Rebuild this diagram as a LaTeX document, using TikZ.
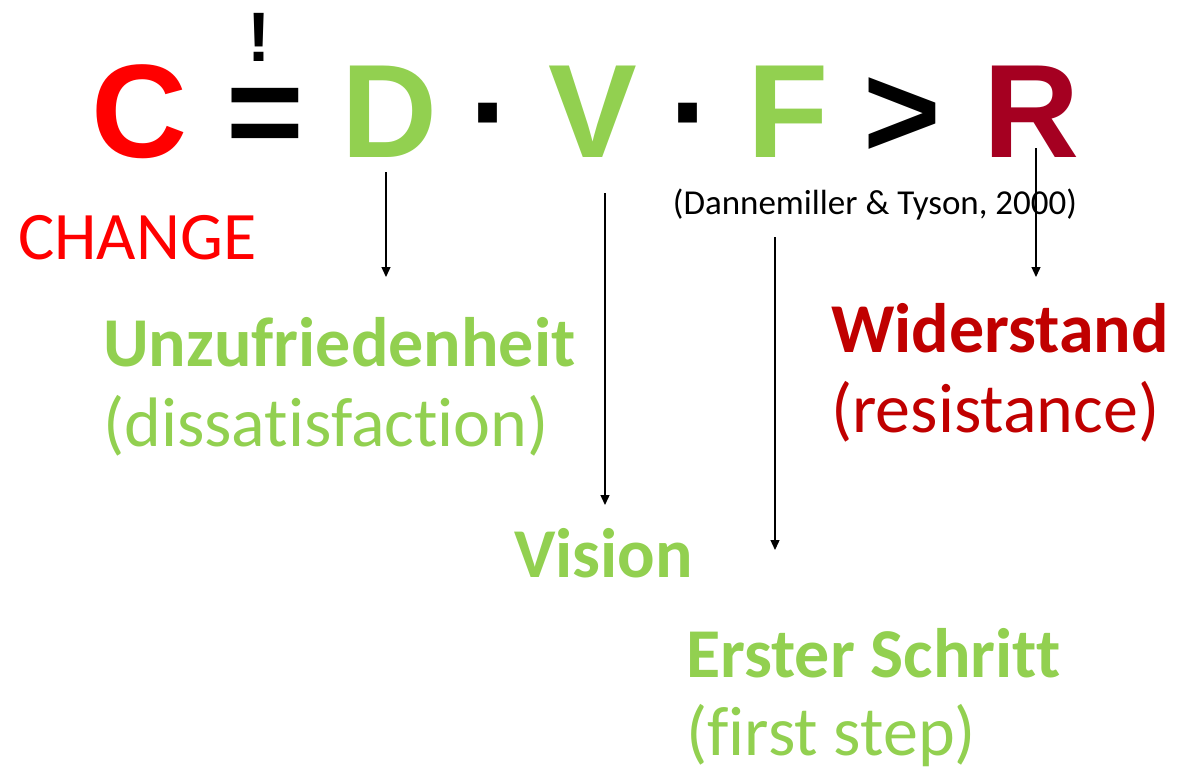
\documentclass[tikz,border=0pt]{standalone}
\usepackage{fontspec}
\setmainfont{Carlito}[Ligatures=NoCommon]
\newfontfamily\formulafont{Liberation Sans}
\usetikzlibrary{arrows.meta}
\definecolor{cgreen}{HTML}{92D050}
\definecolor{cred}{HTML}{FF0000}
\definecolor{crimson}{HTML}{A50021}
\definecolor{darkred}{HTML}{C00000}
\tikzset{
  sym/.style={inner sep=0pt, anchor=base, font=\formulafont\bfseries\fontsize{133}{133}\selectfont},
  lbl/.style={inner sep=0pt, anchor=base west, font=\fontsize{70}{70}\selectfont, text=cgreen},
  lblb/.style={lbl, font=\bfseries\fontsize{70}{70}\selectfont},
  pointer/.style={line width=1.3pt, -{Triangle[length=10pt,width=9pt]}}
}
\begin{document}
\begin{tikzpicture}[x=1pt,y=-1pt]
  \useasboundingbox (0,0) rectangle (1197,772);
  % the formula C = D . V . F > R
  \node[sym, text=cred]    (C)  at (140,157) {C};
  \node[sym]               (eq) at (265,157) {=};
  \node[inner sep=0pt, anchor=base, font=\formulafont\bfseries\fontsize{70}{70}\selectfont] (ex) at (259,61) {!};
  \node[sym, text=cgreen]  (D)  at (390,157) {D};
  \node[sym]               (d1) at (492,157) {·};
  \node[sym, text=cgreen]  (V)  at (593,157) {V};
  \node[sym]               (d2) at (692,157) {·};
  \node[sym, text=cgreen]  (F)  at (788,157) {F};
  \node[sym]               (gt) at (902,157) {>};
  \node[sym, text=crimson] (R)  at (1032,157) {R};
  % source
  \node[inner sep=0pt, anchor=base, font=\fontsize{35}{35}\selectfont] (src) at (875,214) {(Dannemiller \& Tyson, 2000)};
  \node[inner sep=0pt, anchor=base west, font=\fontsize{68}{68}\selectfont, text=cred] (change) at (18,259) {CHANGE};
  % explanations
  \node[lblb] (unz)  at (103,366) {Unzufriedenheit};
  \node[lbl]  (dis)  at (103,446) {(dissatisfaction)};
  \node[lblb, text=darkred] (wid) at (831,352) {Widerstand};
  \node[lbl, text=darkred]  (res) at (831,432) {(resistance)};
  \node[lblb] (vis)  at (514,577) {Vision};
  \node[lblb] (ers)  at (686,677) {Erster Schritt};
  \node[lbl]  (fst)  at (686,755) {(first step)};
  % pointers
  \coordinate (dA) at (386,172); \coordinate (dB) at (386,277);
  \coordinate (vA) at (605,193); \coordinate (vB) at (605,505);
  \coordinate (fA) at (775,237); \coordinate (fB) at (775,550);
  \coordinate (rA) at (1036,148); \coordinate (rB) at (1036,277);
  \draw[pointer] (dA) -- (dB);
  \draw[pointer] (vA) -- (vB);
  \draw[pointer] (fA) -- (fB);
  \draw[pointer] (rA) -- (rB);
\end{tikzpicture}
\end{document}
